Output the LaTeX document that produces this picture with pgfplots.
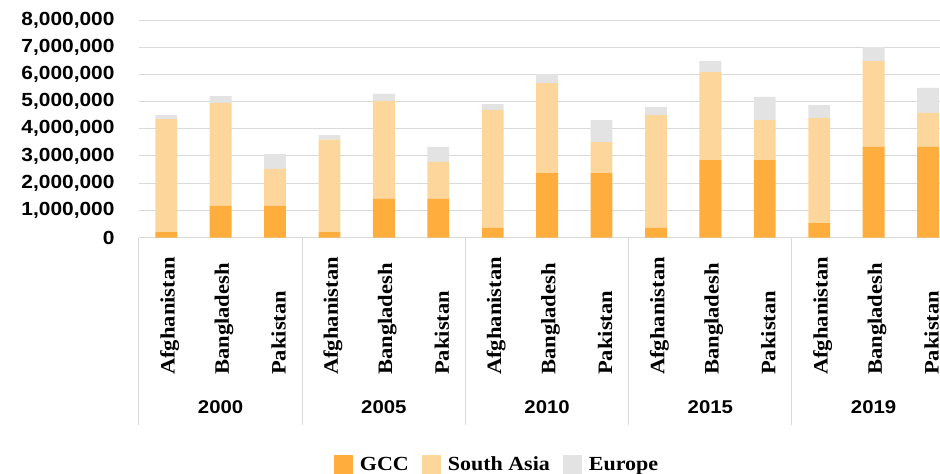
\documentclass[border=0pt]{standalone}
\usepackage{fontspec}
\usepackage{pgfplots}
\usepackage{pgfplotstable}
\pgfplotsset{compat=1.18}
\newfontfamily\sansb[FakeStretch=1.1]{Liberation Sans}
\newfontfamily\serifb[FakeStretch=1.1]{Liberation Serif}
\definecolor{gcc}{HTML}{FFAD3C}
\definecolor{sasia}{HTML}{FDD69C}
\definecolor{europe}{HTML}{E2E3E2}
\definecolor{gridgray}{HTML}{D9D9D9}

% migrant stocks: GCC, South Asia, Europe (stacked)
\pgfplotstableread{
x gcc sa eur
0  200000  4150000 150000
1  1160000 3790000 250000
2  1160000 1360000 550000
3  200000  3400000 170000
4  1420000 3600000 260000
5  1420000 1360000 550000
6  350000  4340000 220000
7  2370000 3310000 330000
8  2370000 1140000 810000
9  350000  4150000 300000
10 2850000 3230000 410000
11 2850000 1470000 850000
12 530000  3860000 480000
13 3330000 3160000 510000
14 3330000 1250000 920000
}\migr

\begin{document}
\begin{tikzpicture}
\begin{axis}[
  at={(0,0)}, anchor=south west,
  scale only axis, width=801pt, height=217.5pt,
  xmin=-0.5, xmax=14.22, ymin=0, ymax=8000000,
  ybar stacked, bar width=0.4,
  clip=false,
  axis line style={draw=none},
  major tick length=0pt,
  ymajorgrids, grid style={gridgray, line width=1pt},
  ytick={0,1000000,2000000,3000000,4000000,5000000,6000000,7000000,8000000},
  scaled y ticks=false,
  yticklabel style={/pgf/number format/fixed, /pgf/number format/1000 sep={,},
    /pgf/number format/assume math mode=true,
    font=\sansb\bfseries\fontsize{19}{20}\selectfont, xshift=-21pt},
  xtick={0,...,14},
  xticklabels={Afghanistan,Bangladesh,Pakistan,Afghanistan,Bangladesh,Pakistan,
    Afghanistan,Bangladesh,Pakistan,Afghanistan,Bangladesh,Pakistan,
    Afghanistan,Bangladesh,Pakistan},
  xticklabel style={yshift=-137.5pt, xshift=3.5pt, rotate=90, anchor=west, inner sep=0pt,
    font=\serifb\bfseries\fontsize{20.5}{22}\selectfont},
  legend style={at={(0.447,-0.99)}, anchor=north, draw=none, fill=none,
    legend columns=3, font=\serifb\bfseries\fontsize{20}{22}\selectfont,
    /tikz/every odd column/.append style={column sep=5pt},
    /tikz/every even column/.append style={column sep=11pt}},
  legend image code/.code={\fill[#1] (0pt,-9.5pt) rectangle (19pt,9.5pt);},
]
\addplot[fill=gcc, draw=none] table[x=x, y=gcc] {\migr};
\addplot[fill=sasia, draw=none] table[x=x, y=sa] {\migr};
\addplot[fill=europe, draw=none] table[x=x, y=eur] {\migr};
\legend{GCC, South Asia, Europe}

\pgfplotsinvokeforeach{-0.5,2.5,5.5,8.5,11.5}{
  \draw[gridgray, line width=1pt] (axis cs:#1,0) -- ++(0pt,-187pt);
}
\node[font=\sansb\bfseries\fontsize{18.5}{20}\selectfont] at ([yshift=-170pt]axis cs:1,0) {2000};
\node[font=\sansb\bfseries\fontsize{18.5}{20}\selectfont] at ([yshift=-170pt]axis cs:4,0) {2005};
\node[font=\sansb\bfseries\fontsize{18.5}{20}\selectfont] at ([yshift=-170pt]axis cs:7,0) {2010};
\node[font=\sansb\bfseries\fontsize{18.5}{20}\selectfont] at ([yshift=-170pt]axis cs:10,0) {2015};
\node[font=\sansb\bfseries\fontsize{18.5}{20}\selectfont] at ([yshift=-170pt]axis cs:13,0) {2019};
\end{axis}
\pgfresetboundingbox
\useasboundingbox (-139pt,-236.5pt) rectangle (801pt,237.5pt);
\end{tikzpicture}
\end{document}
